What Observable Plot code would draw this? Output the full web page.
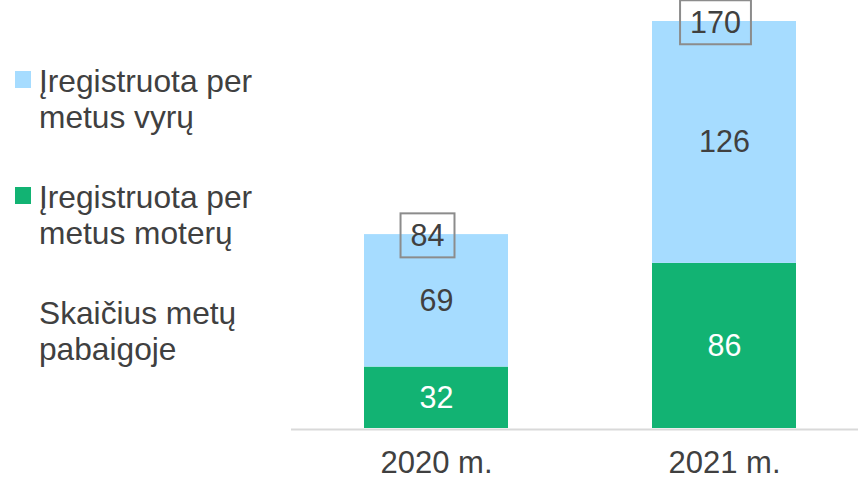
<!DOCTYPE html>
<html>
<head>
<meta charset="utf-8">
<script src="https://cdn.jsdelivr.net/npm/d3@7"></script>
<script src="https://cdn.jsdelivr.net/npm/@observablehq/plot@0.6"></script>
<style>
  html, body { margin: 0; padding: 0; background: #fff; }
  #wrap { position: relative; width: 858px; height: 479px; overflow: hidden; font-family: "Liberation Sans", Arial, sans-serif; color: #404040; }
  #chart { position: absolute; left: 0; top: 0; }
  .item { position: absolute; left: 0; width: 290px; }
  .sw { position: absolute; left: 15px; top: 8px; width: 16px; height: 17px; }
  .lbl { position: absolute; left: 39px; font-size: 31.7px; line-height: 36px; white-space: nowrap; }
</style>
</head>
<body>
<div id="wrap"><div id="legend"></div><div id="chart"></div></div>
<script>
// ---- data ----
const years = ["2020 m.", "2021 m."];
const women = [32, 86];
const men = [69, 126];
const yearEnd = [84, 170];
const seriesMen = "Įregistruota per metus vyrų";
const seriesWomen = "Įregistruota per metus moterų";
const seriesYearEnd = "Skaičius metų pabaigoje";
const legendLines = [
  ["Įregistruota per", "metus vyrų"],
  ["Įregistruota per", "metus moterų"],
  ["Skaičius metų", "pabaigoje"]
];
const colorMen = "#a6dcff";
const colorWomen = "#12b373";

// ---- table ----
const rows = [];
years.forEach((y, i) => {
  rows.push({year: y, series: seriesWomen, value: women[i]});
  rows.push({year: y, series: seriesMen, value: men[i]});
});
const totals = years.map((y, i) => ({year: y, top: women[i] + men[i], label: yearEnd[i], series: seriesYearEnd}));
const order = [seriesWomen, seriesMen];

const plot = Plot.plot({
  width: 858,
  height: 479,
  marginLeft: 291,
  marginRight: 0,
  marginTop: 21,
  marginBottom: 51,
  style: {fontFamily: "'Liberation Sans', Arial, sans-serif", color: "#404040", background: "transparent", overflow: "visible"},
  x: {domain: years, paddingInner: 0.5, paddingOuter: 0.234, align: 0.54, label: null},
  y: {domain: [0, 212], axis: null},
  color: {domain: [seriesMen, seriesWomen], range: [colorMen, colorWomen]},
  marks: [
    Plot.barY(rows, {x: "year", y: "value", fill: "series", order}),
    Plot.text(rows, Plot.stackY({
      x: "year", y: "value", z: "series", order,
      text: "value",
      fill: d => d.series === seriesWomen ? "#ffffff" : "#404040",
      fontSize: 30.5
    })),
    Plot.ruleY([0], {stroke: "#d9d9d9", strokeWidth: 2, dy: 1}),
    Plot.text(totals, {
      x: "year", y: "top", text: "label",
      fill: "#404040", fontSize: 30.5, dx: -9, dy: 2,
      className: "total-labels"
    }),
    Plot.axisX({tickSize: 0, tickPadding: 22, fontSize: 31, label: null, color: "#404040"})
  ]
});
document.getElementById("chart").appendChild(plot);

// boxes around year-end labels
d3.select(plot).selectAll("g.total-labels text").each(function() {
  const bb = this.getBBox();
  const padX = 10, padY = 5;
  d3.select(this.parentNode).insert("rect", () => this)
    .attr("x", bb.x - padX).attr("y", bb.y - padY)
    .attr("width", bb.width + 2 * padX).attr("height", bb.height + 2 * padY)
    .attr("fill", "none").attr("stroke", "#8c8c8c").attr("stroke-width", 2)
    .attr("transform", this.getAttribute("transform"));
});

// legend
const legendColors = [colorMen, colorWomen, null];
const leg = document.getElementById("legend");
legendLines.forEach((lines, i) => {
  const item = document.createElement("div");
  item.className = "item";
  item.style.top = (63 + i * 116) + "px";
  if (legendColors[i]) {
    const sw = document.createElement("div");
    sw.className = "sw";
    sw.style.background = legendColors[i];
    item.appendChild(sw);
  }
  const lbl = document.createElement("div");
  lbl.className = "lbl";
  lbl.innerHTML = lines.join("<br>");
  item.appendChild(lbl);
  leg.appendChild(item);
});
</script>
</body>
</html>
